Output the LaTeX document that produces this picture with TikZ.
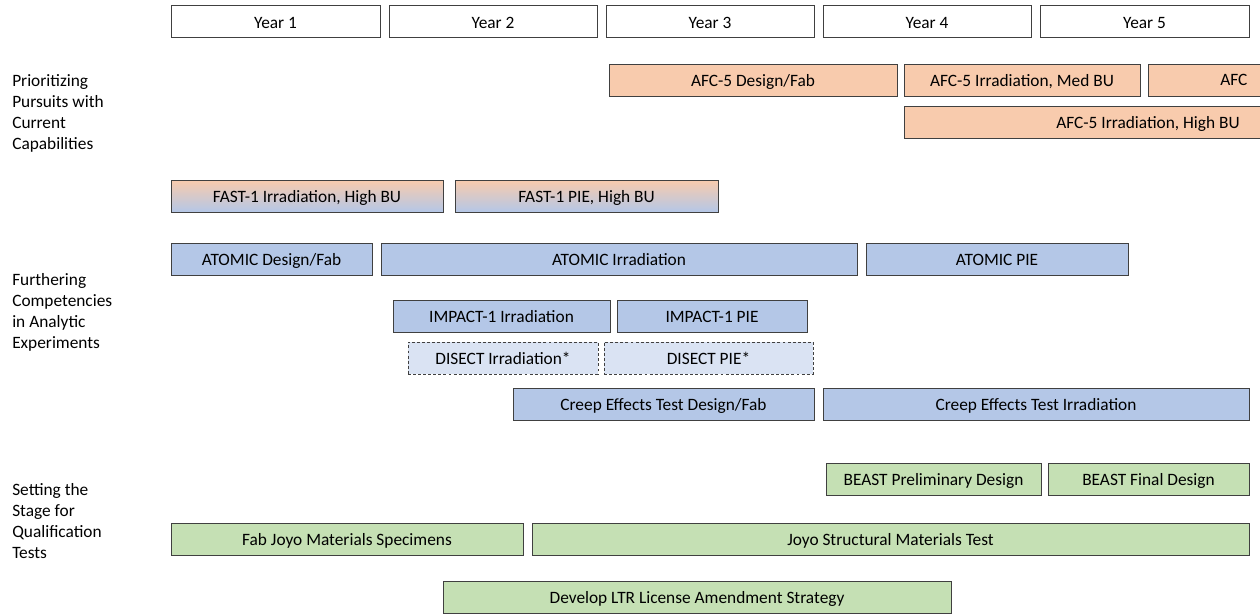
\documentclass[tikz,border=0pt]{standalone}
\usepackage{fontspec}
\setmainfont{Carlito}
\usepackage{tikz}
\usetikzlibrary{positioning}
\definecolor{afcorange}{HTML}{F8CBAD}
\definecolor{testblue}{HTML}{B4C7E7}
\definecolor{paleblue}{HTML}{DAE3F3}
\definecolor{qualgreen}{HTML}{C5E0B4}
\definecolor{edge}{HTML}{404040}
\begin{document}
\begin{tikzpicture}[x=0.75pt, y=-0.75pt,
    bar/.style={rectangle, draw=edge, line width=0.75pt, minimum height=24pt, inner sep=0pt, text height=11.5pt, text depth=1.5pt, font=\fontsize{13}{15.75}\selectfont},
    span/.style={minimum width=#1*0.75pt},
    year/.style={bar, fill=white},
    orange/.style={bar, fill=afcorange},
    blue/.style={bar, fill=testblue},
    mixed/.style={bar, top color=afcorange, bottom color=testblue},
    maybe/.style={bar, fill=paleblue, dashed, dash pattern=on 2.2pt off 1.6pt},
    green/.style={bar, fill=qualgreen},
    theme/.style={align=left, anchor=north west, inner sep=0pt, font=\fontsize{13}{15.75}\selectfont}
]
\useasboundingbox (0,0) rectangle (1260,615);
\clip (0,0) rectangle (1260,615);
% timeline
\node[year, span=209] (year1) at (275.5,21.5) {Year 1};
\node[year, span=208] (year2) at (493,21.5) {Year 2};
\node[year, span=208] (year3) at (710,21.5) {Year 3};
\node[year, span=208] (year4) at (927,21.5) {Year 4};
\node[year, span=209] (year5) at (1144.5,21.5) {Year 5};
% themes
\node[theme] (prior) at (12,74) {Prioritizing\\Pursuits with\\Current\\Capabilities};
\node[theme] (further) at (12,273) {Furthering\\Competencies\\in Analytic\\Experiments};
\node[theme] (stage) at (12,483) {Setting the\\Stage for\\Qualification\\Tests};
% current capabilities
\node[orange, span=288] (afcfab) at (753,80) {AFC-5 Design/Fab};
\node[orange, span=236] (afcmed) at (1022,80) {AFC-5 Irradiation, Med BU};
\node[orange, span=160, anchor=west] (afcnext) at (1148,80) {};
\node[anchor=base west, inner sep=0pt, font=\fontsize{13}{15.75}\selectfont] (afcnexttext) at (1220,85.5) {AFC};
\node[orange, span=488] (afchigh) at (1148,122) {AFC-5 Irradiation, High BU};
\node[mixed, span=272] (fastirr) at (307,196) {FAST-1 Irradiation, High BU};
\node[mixed, span=263] (fastpie) at (586.5,196) {FAST-1 PIE, High BU};
% analytic experiments
\node[blue, span=201] (atomfab) at (271.5,259) {ATOMIC Design/Fab};
\node[blue, span=476] (atomirr) at (619,259) {ATOMIC Irradiation};
\node[blue, span=262] (atompie) at (997,259) {ATOMIC PIE};
\node[blue, span=217] (impirr) at (501.5,316) {IMPACT-1 Irradiation};
\node[blue, span=190] (imppie) at (712,316) {IMPACT-1 PIE};
\node[maybe, span=190] (disirr) at (503,358) {DISECT Irradiation*};
\node[maybe, span=209] (dispie) at (708.5,358) {DISECT PIE*};
\node[blue, span=301] (creepfab) at (663.5,404) {Creep Effects Test Design/Fab};
\node[blue, span=426] (creepirr) at (1036,404) {Creep Effects Test Irradiation};
% qualification tests
\node[green, span=215] (beastpre) at (933.5,479) {BEAST Preliminary Design};
\node[green, span=201] (beastfin) at (1148.5,479) {BEAST Final Design};
\node[green, span=352] (joyofab) at (347,539) {Fab Joyo Materials Specimens};
\node[green, span=717] (joyotest) at (890.5,539) {Joyo Structural Materials Test};
\node[green, span=508] (ltr) at (697,597) {Develop LTR License Amendment Strategy};
\end{tikzpicture}
\end{document}
